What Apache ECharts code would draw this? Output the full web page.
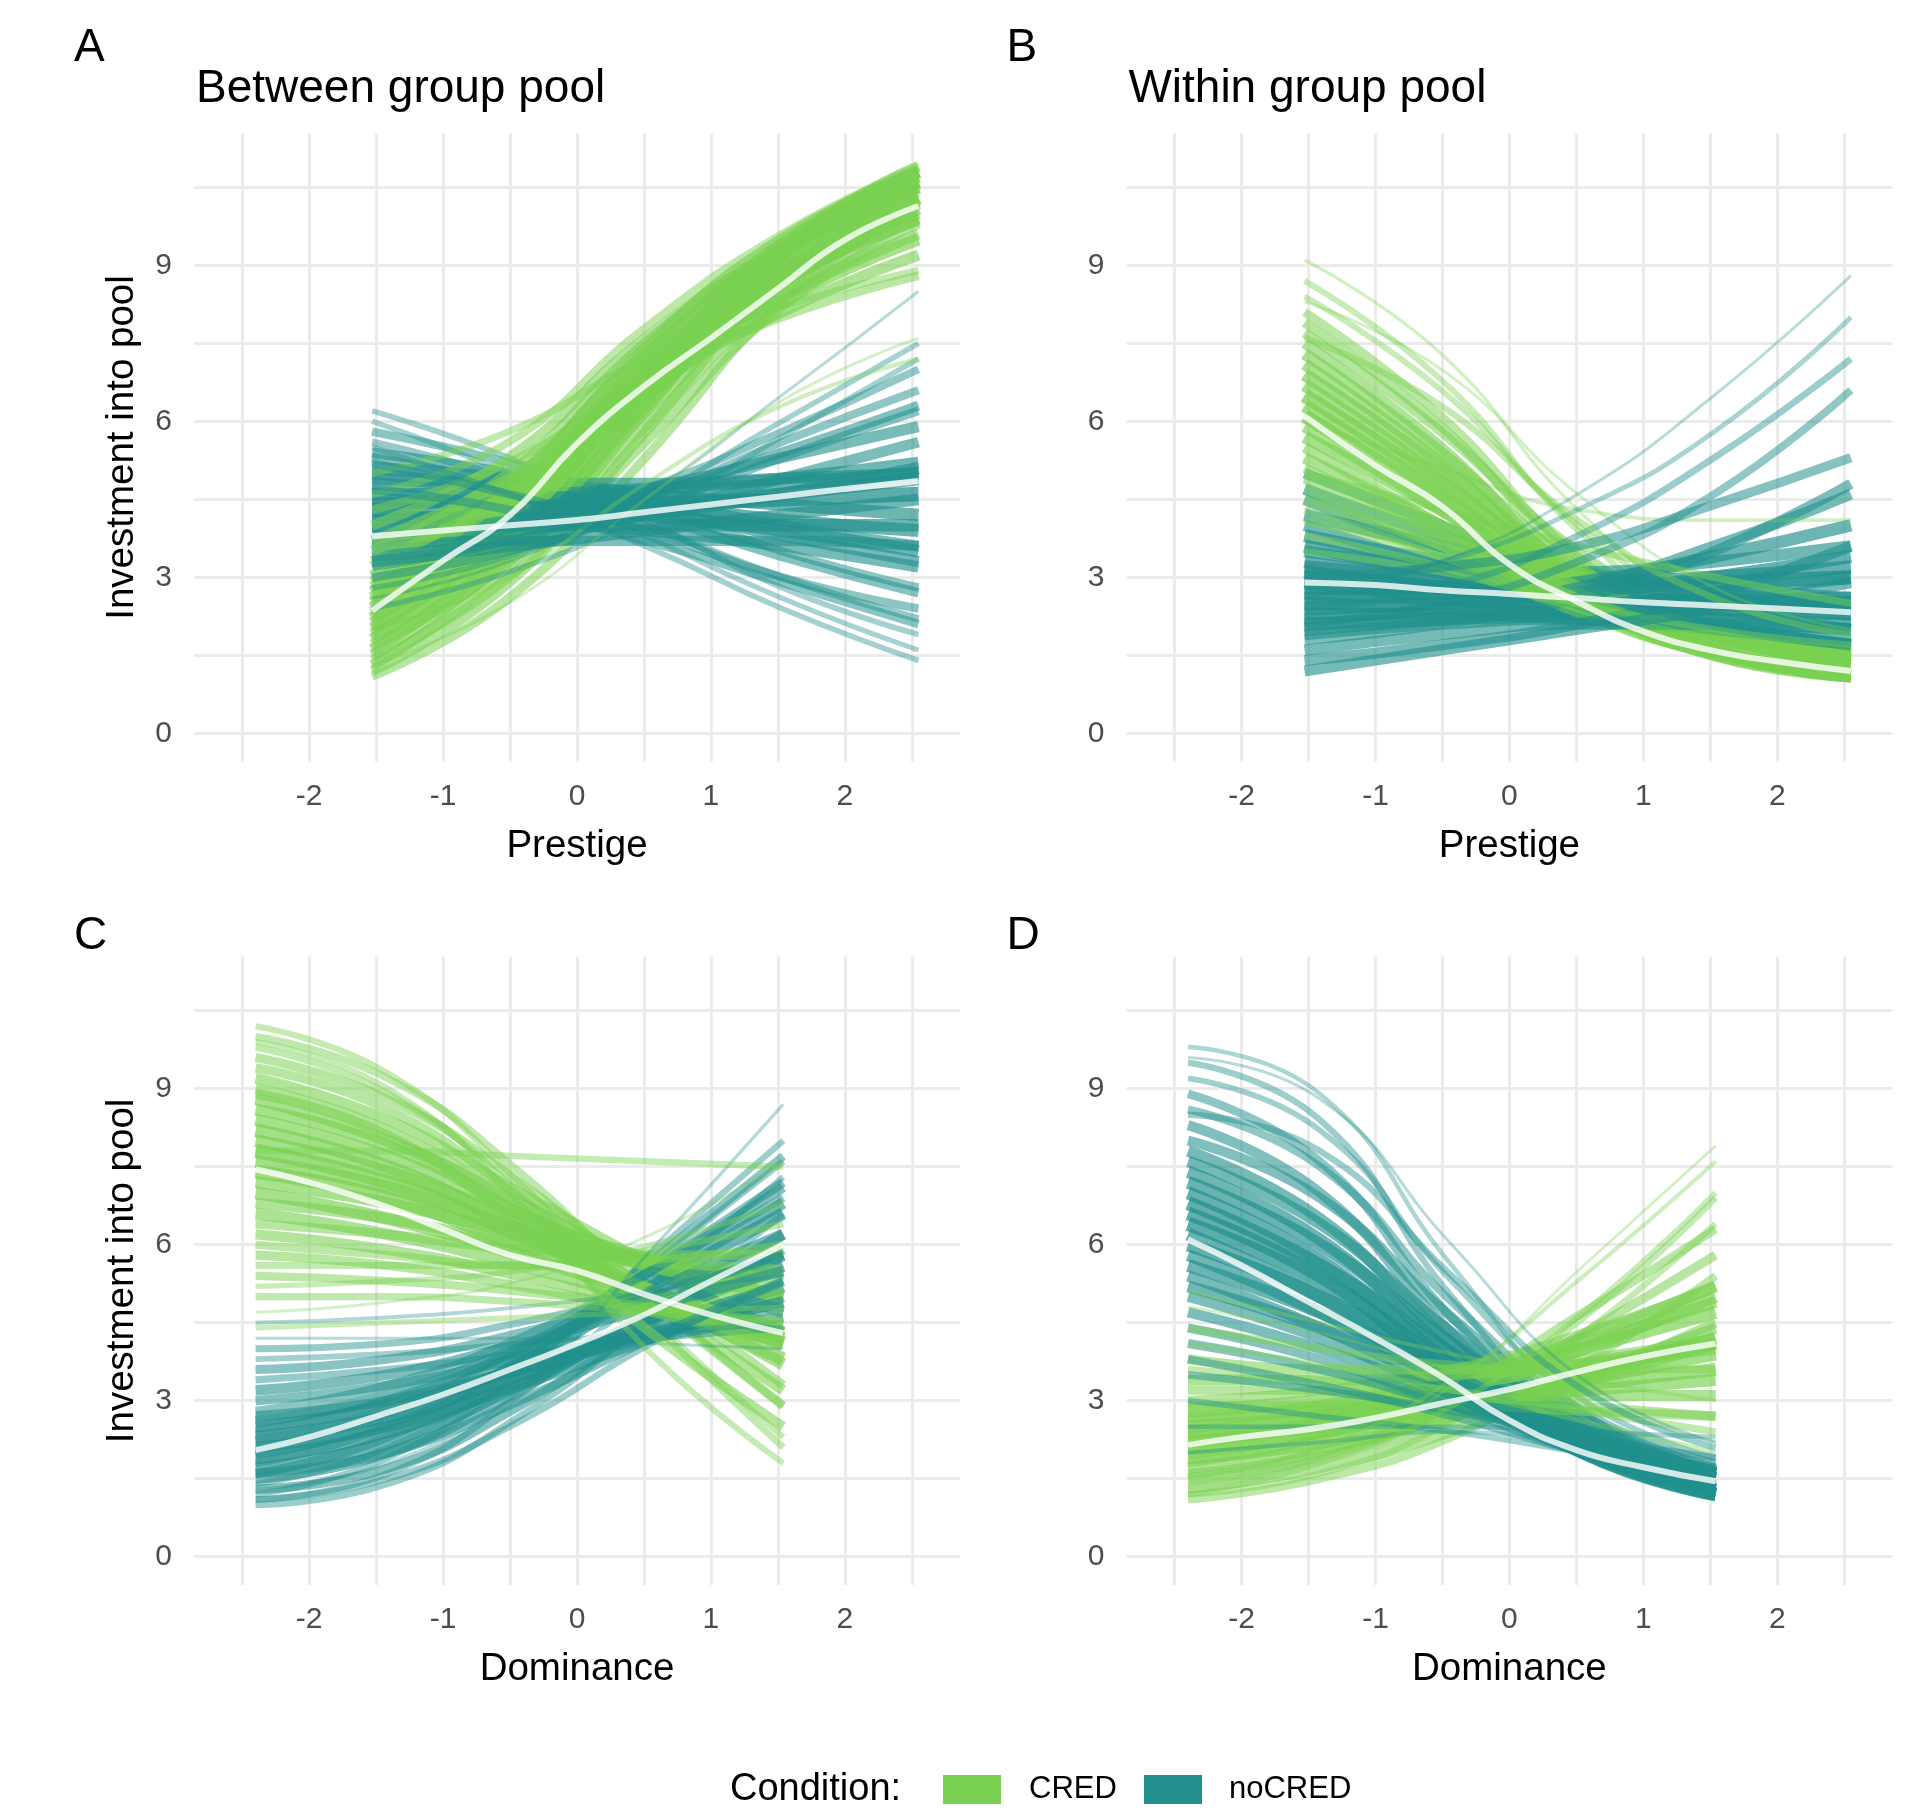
<!DOCTYPE html>
<html>
<head>
<meta charset="utf-8">
<script src="https://cdn.jsdelivr.net/npm/echarts@6/dist/echarts.min.js"></script>
<style>
  html, body { margin: 0; padding: 0; background: #fff; }
  #chart { width: 1915px; height: 1811px; }
</style>
</head>
<body>
<div id="chart"></div>
<script>
var prestigeX = [-1.53, -0.51, 0.51, 1.53, 2.55];
var dominanceX = [-2.40, -1.415, -0.43, 0.555, 1.54];
// x positions where the mean curves were read
var prestigeMeanX = [-1.53, -1, -0.5, 0, 0.5, 1, 1.5, 2, 2.55];
var dominanceMeanX = [-2.4, -2, -1.5, -1, -0.5, 0, 0.5, 1, 1.54];

var xTicks = [-2, -1, 0, 1, 2];
var xMinor = [-2.5, -1.5, -0.5, 0.5, 1.5, 2.5];
var yTicks = [0, 3, 6, 9];
var yMinor = [1.5, 4.5, 7.5, 10.5];

// A - between group pool ~ prestige
var betweenPrestigeCred = [
  [1.1, 2.6, 5.3, 8.3, 10.2], [1.2, 2.9, 5.8, 8.8, 10.6], [1.3, 3.2, 6.2, 9.2, 10.8],
  [1.4, 3.0, 5.6, 8.2, 9.8], [1.5, 3.4, 6.4, 9.3, 10.9], [1.6, 3.5, 6.3, 9.0, 10.5],
  [1.7, 3.3, 5.9, 8.4, 9.9], [1.8, 3.7, 6.6, 9.2, 10.7], [1.9, 3.6, 6.2, 8.6, 10.0],
  [2.0, 3.9, 6.8, 9.3, 10.8], [2.1, 3.8, 6.5, 8.8, 10.3], [2.2, 4.1, 6.9, 9.2, 10.6],
  [2.3, 4.0, 6.6, 8.7, 10.1], [2.4, 4.3, 7.1, 9.4, 10.8], [2.5, 4.2, 6.7, 8.7, 9.9],
  [2.6, 4.5, 7.2, 9.3, 10.6], [2.7, 4.4, 6.9, 8.9, 10.3], [2.8, 4.3, 6.5, 8.3, 9.5],
  [2.9, 4.7, 7.4, 9.5, 10.8], [3.0, 4.6, 7.0, 8.9, 10.2], [3.2, 4.8, 7.3, 9.2, 10.5],
  [3.3, 4.6, 6.6, 8.1, 9.2], [3.5, 5.0, 7.5, 9.4, 10.7], [3.7, 4.9, 6.8, 8.4, 9.6],
  [4.0, 5.3, 7.6, 9.3, 10.4], [4.3, 5.2, 6.8, 8.0, 8.8], [4.6, 5.6, 7.8, 9.6, 10.9],
  [5.0, 5.8, 7.2, 8.2, 8.9], [1.3, 2.5, 4.5, 6.4, 7.6], [2.0, 3.0, 4.8, 6.3, 7.2]
];
var betweenPrestigeNoCred = [
  [6.2, 5.3, 4.1, 2.8, 1.9], [6.0, 5.0, 3.8, 2.6, 1.6], [5.8, 5.2, 4.4, 3.5, 2.8],
  [5.6, 4.9, 4.0, 3.0, 2.2], [5.4, 5.0, 4.5, 4.0, 3.6], [5.3, 4.8, 4.2, 3.4, 2.7],
  [5.1, 4.9, 4.6, 4.4, 4.2], [5.0, 4.7, 4.3, 3.8, 3.3], [4.9, 4.8, 4.8, 4.9, 5.0],
  [4.8, 4.6, 4.4, 4.1, 3.9], [4.6, 4.6, 4.7, 4.9, 5.2], [4.5, 4.4, 4.2, 3.9, 3.5],
  [4.4, 4.5, 4.6, 4.8, 5.0], [4.3, 4.3, 4.4, 4.5, 4.6], [4.2, 4.1, 3.9, 3.6, 3.2],
  [4.1, 4.3, 4.7, 5.3, 5.9], [4.0, 4.1, 4.3, 4.6, 4.9], [3.9, 4.0, 4.0, 4.0, 4.0],
  [3.8, 4.1, 4.6, 5.4, 6.3], [3.7, 3.9, 4.2, 4.6, 5.1], [3.6, 3.7, 3.7, 3.7, 3.6],
  [3.5, 3.9, 4.7, 5.8, 7.0], [3.4, 3.7, 4.2, 4.9, 5.6], [3.3, 3.6, 3.9, 4.2, 4.5],
  [3.2, 3.7, 4.5, 5.6, 6.6], [3.0, 3.5, 4.3, 5.3, 6.2], [2.8, 3.4, 4.5, 6.0, 7.5],
  [2.6, 3.3, 4.6, 6.5, 8.5], [2.4, 3.1, 4.2, 5.7, 7.2], [5.5, 4.6, 3.6, 2.4, 1.4],
  [4.7, 4.3, 3.7, 2.9, 2.1], [5.2, 4.6, 3.9, 3.0, 2.4]
];
var betweenPrestigeMeanCred = [2.36, 3.32, 4.2, 5.57, 6.67, 7.6, 8.55, 9.49, 10.14];
var betweenPrestigeMeanNoCred = [3.79, 3.9, 4.0, 4.1, 4.25, 4.4, 4.55, 4.7, 4.85];

// B - within group pool ~ prestige
var withinPrestigeCred = [
  [9.1, 7.3, 4.3, 2.3, 1.5], [8.7, 6.8, 3.9, 2.0, 1.3], [8.4, 6.6, 4.0, 2.3, 1.6],
  [8.1, 6.1, 3.4, 1.8, 1.2], [7.9, 5.9, 3.3, 1.8, 1.2], [7.7, 5.8, 3.5, 2.1, 1.5],
  [7.5, 5.5, 3.0, 1.6, 1.1], [7.3, 5.4, 3.2, 1.9, 1.4], [7.1, 5.2, 2.9, 1.6, 1.1],
  [6.9, 5.1, 3.1, 1.9, 1.4], [6.7, 4.9, 2.8, 1.6, 1.1], [6.5, 4.8, 3.0, 1.9, 1.4],
  [6.3, 4.6, 2.7, 1.6, 1.1], [6.1, 4.5, 2.9, 1.9, 1.5], [5.9, 4.3, 2.6, 1.5, 1.1],
  [5.7, 4.3, 2.8, 1.9, 1.5], [5.5, 4.0, 2.5, 1.5, 1.1], [5.3, 4.0, 2.7, 1.9, 1.5],
  [5.1, 3.8, 2.4, 1.5, 1.1], [4.9, 3.8, 2.6, 1.8, 1.4], [4.7, 3.6, 2.4, 1.6, 1.2],
  [4.5, 3.6, 2.6, 1.9, 1.6], [4.3, 3.4, 2.3, 1.5, 1.1], [4.1, 3.4, 2.5, 1.9, 1.5],
  [3.8, 3.2, 2.4, 1.8, 1.4], [3.5, 3.1, 2.5, 2.0, 1.7], [5.0, 4.3, 3.6, 3.0, 2.5],
  [6.0, 5.1, 4.3, 4.1, 4.1], [8.3, 7.0, 4.6, 2.8, 2.0], [7.6, 6.3, 4.1, 2.6, 1.9]
];
var withinPrestigeNoCred = [
  [5.0, 4.0, 3.0, 2.4, 2.0], [4.7, 3.8, 3.1, 2.7, 2.5], [4.5, 3.5, 2.7, 2.1, 1.7],
  [4.2, 3.6, 3.1, 2.8, 2.6], [4.0, 3.2, 2.5, 2.0, 1.6], [3.8, 3.3, 2.9, 2.6, 2.4],
  [3.6, 3.1, 2.7, 2.5, 2.3], [3.5, 3.2, 3.1, 3.3, 3.6], [3.3, 2.9, 2.5, 2.2, 2.0],
  [3.2, 3.0, 2.9, 3.0, 3.2], [3.1, 2.8, 2.6, 2.4, 2.3], [3.0, 2.8, 2.6, 2.5, 2.5],
  [2.9, 2.6, 2.3, 2.0, 1.7], [2.8, 2.8, 2.8, 2.9, 3.0], [2.7, 2.6, 2.5, 2.5, 2.5],
  [2.6, 2.7, 2.9, 3.4, 4.0], [2.5, 2.4, 2.3, 2.2, 2.1], [2.4, 2.5, 2.7, 3.0, 3.4],
  [2.3, 2.3, 2.2, 2.0, 1.8], [2.2, 2.4, 2.8, 3.6, 4.6], [2.1, 2.2, 2.3, 2.5, 2.6],
  [2.0, 2.2, 2.4, 2.7, 3.0], [1.9, 2.1, 2.2, 2.0, 1.7], [1.8, 2.1, 2.6, 3.5, 4.8],
  [1.6, 1.9, 2.1, 2.1, 2.0], [1.4, 1.7, 2.1, 2.7, 3.6], [1.2, 1.6, 2.0, 2.4, 2.9],
  [2.6, 3.3, 4.6, 6.5, 8.8], [2.8, 3.3, 4.3, 5.8, 8.0], [2.4, 2.8, 3.8, 5.3, 7.2],
  [2.1, 2.5, 3.3, 4.6, 6.6], [3.0, 3.2, 3.6, 4.4, 5.3]
];
var withinPrestigeMeanCred = [6.1, 5.15, 4.36, 3.25, 2.54, 1.96, 1.6, 1.38, 1.2];
var withinPrestigeMeanNoCred = [2.9, 2.85, 2.75, 2.68, 2.6, 2.52, 2.46, 2.4, 2.33];

// C - between group pool ~ dominance
var betweenDominanceCred = [
  [10.2, 9.3, 7.2, 4.6, 2.3], [10.0, 9.2, 7.4, 5.0, 2.9], [9.8, 8.9, 7.0, 4.5, 2.1],
  [9.6, 8.8, 7.2, 5.2, 3.3], [9.4, 8.6, 6.9, 4.9, 2.9], [9.2, 8.4, 7.0, 5.6, 4.2],
  [9.0, 8.2, 6.7, 4.9, 3.2], [8.8, 8.0, 6.8, 5.5, 4.3], [8.6, 7.9, 6.6, 5.1, 3.7],
  [8.4, 7.7, 6.6, 5.6, 4.7], [8.2, 7.5, 6.3, 5.0, 3.8], [8.0, 7.4, 6.5, 5.7, 5.0],
  [7.8, 7.2, 6.2, 5.1, 4.1], [7.6, 7.1, 6.3, 5.6, 5.0], [7.4, 6.9, 6.0, 5.1, 4.3],
  [7.2, 6.8, 6.2, 5.7, 5.3], [7.0, 6.5, 5.8, 5.0, 4.2], [6.8, 6.5, 6.0, 5.7, 5.5],
  [6.6, 6.2, 5.6, 4.9, 4.2], [6.4, 6.2, 5.9, 5.8, 5.8], [6.2, 5.9, 5.4, 4.8, 4.1],
  [6.0, 5.8, 5.6, 5.7, 6.0], [5.8, 5.6, 5.2, 4.7, 4.1], [5.6, 5.6, 5.6, 5.9, 6.4],
  [5.4, 5.3, 5.1, 4.8, 4.5], [5.2, 5.3, 5.5, 6.0, 6.8], [5.0, 5.0, 4.9, 4.7, 4.5],
  [4.7, 4.9, 5.3, 6.2, 7.6], [4.4, 4.5, 4.6, 4.7, 4.8], [7.8, 7.8, 7.7, 7.6, 7.5],
  [9.9, 9.0, 6.8, 3.9, 1.8], [8.9, 8.1, 6.4, 4.3, 2.5]
];
var betweenDominanceNoCred = [
  [1.0, 1.4, 2.7, 4.6, 6.6], [1.1, 1.6, 3.1, 5.2, 7.3], [1.2, 1.9, 3.5, 5.6, 7.6],
  [1.3, 1.7, 2.9, 4.5, 5.9], [1.4, 2.1, 3.6, 5.8, 8.0], [1.5, 2.0, 3.2, 4.7, 6.2],
  [1.6, 2.3, 3.7, 5.5, 7.2], [1.7, 2.2, 3.3, 4.6, 5.8], [1.8, 2.5, 3.8, 5.7, 7.7],
  [1.9, 2.4, 3.4, 4.6, 5.6], [2.0, 2.6, 3.7, 5.2, 6.6], [2.1, 2.5, 3.3, 4.2, 5.0],
  [2.2, 2.8, 3.9, 5.3, 6.8], [2.3, 2.7, 3.5, 4.4, 5.2], [2.4, 3.0, 4.0, 5.5, 7.1],
  [2.5, 2.9, 3.6, 4.3, 4.9], [2.6, 3.1, 4.0, 5.1, 6.2], [2.7, 3.0, 3.6, 4.2, 4.6],
  [2.8, 3.3, 4.2, 5.5, 6.9], [3.0, 3.3, 3.8, 4.3, 4.8], [3.2, 3.5, 4.1, 4.8, 5.5],
  [3.4, 3.6, 3.9, 4.2, 4.4], [3.6, 3.8, 4.3, 5.0, 5.8], [3.8, 3.9, 4.1, 4.3, 4.5],
  [4.0, 4.1, 4.5, 5.1, 5.8], [4.2, 4.2, 4.2, 4.1, 4.0], [4.5, 4.6, 4.8, 5.1, 5.4],
  [1.3, 1.8, 3.2, 5.9, 8.7], [1.1, 1.5, 2.6, 4.1, 5.3], [1.6, 2.0, 3.0, 4.2, 5.3]
];
var betweenDominanceMeanCred = [7.45, 7.2, 6.8, 6.3, 5.8, 5.5, 5.05, 4.65, 4.3];
var betweenDominanceMeanNoCred = [2.05, 2.3, 2.7, 3.12, 3.6, 4.1, 4.65, 5.3, 6.0];

// D - within group pool ~ dominance
var withinDominanceCred = [
  [1.1, 1.5, 2.3, 3.7, 5.4], [1.2, 1.6, 2.6, 4.3, 6.4], [1.3, 1.7, 2.4, 3.4, 4.5],
  [1.4, 1.9, 2.9, 4.6, 6.9], [1.5, 1.9, 2.6, 3.5, 4.4], [1.6, 2.0, 2.9, 4.3, 5.8],
  [1.7, 2.1, 2.7, 3.4, 4.1], [1.8, 2.3, 3.2, 4.7, 6.3], [1.9, 2.2, 2.8, 3.5, 4.2],
  [2.0, 2.4, 3.1, 4.0, 5.0], [2.1, 2.4, 2.9, 3.4, 3.9], [2.2, 2.6, 3.3, 4.2, 5.2],
  [2.3, 2.5, 2.9, 3.3, 3.6], [2.4, 2.7, 3.3, 4.0, 4.7], [2.5, 2.7, 3.0, 3.2, 3.4],
  [2.6, 2.9, 3.4, 4.1, 4.9], [2.7, 2.8, 3.0, 3.1, 3.1], [2.8, 3.0, 3.3, 3.7, 4.1],
  [2.9, 2.9, 2.9, 2.8, 2.7], [3.0, 3.2, 3.6, 4.3, 5.2], [3.2, 3.2, 3.1, 2.9, 2.7],
  [3.4, 3.4, 3.5, 3.7, 4.0], [3.6, 3.4, 3.2, 2.8, 2.4], [3.8, 3.6, 3.6, 3.8, 4.2],
  [4.1, 3.7, 3.2, 2.6, 2.0], [4.4, 4.0, 3.7, 3.6, 3.6], [4.8, 4.3, 3.6, 2.9, 2.2],
  [5.1, 4.5, 3.9, 3.4, 3.0], [1.3, 1.9, 3.3, 5.6, 7.9], [1.5, 2.1, 3.4, 5.4, 7.6],
  [1.2, 1.8, 2.9, 4.7, 7.0]
];
var withinDominanceNoCred = [
  [9.8, 8.9, 5.6, 2.8, 1.6], [9.5, 8.4, 5.0, 2.5, 1.5], [9.2, 8.2, 5.3, 3.0, 1.9],
  [8.9, 7.6, 4.6, 2.4, 1.4], [8.6, 7.5, 4.9, 2.8, 1.8], [8.3, 7.0, 4.3, 2.2, 1.3],
  [8.0, 6.9, 4.6, 2.7, 1.7], [7.8, 6.5, 4.1, 2.2, 1.3], [7.6, 6.4, 4.3, 2.6, 1.6],
  [7.4, 6.1, 3.9, 2.1, 1.2], [7.2, 6.0, 4.1, 2.5, 1.6], [7.0, 5.7, 3.7, 2.0, 1.2],
  [6.8, 5.6, 3.9, 2.4, 1.5], [6.6, 5.4, 3.5, 2.0, 1.2], [6.4, 5.3, 3.7, 2.4, 1.6],
  [6.2, 5.0, 3.4, 2.0, 1.2], [6.0, 5.0, 3.6, 2.3, 1.5], [5.8, 4.7, 3.3, 2.0, 1.3],
  [5.6, 4.7, 3.5, 2.3, 1.6], [5.4, 4.4, 3.2, 2.0, 1.3], [5.2, 4.4, 3.4, 2.3, 1.6],
  [5.0, 4.2, 3.1, 2.0, 1.3], [4.7, 4.0, 3.1, 2.2, 1.6], [4.4, 3.8, 2.9, 2.0, 1.4],
  [4.1, 3.6, 2.9, 2.2, 1.7], [3.8, 3.3, 2.7, 2.0, 1.5], [3.5, 3.2, 2.8, 2.3, 1.9],
  [3.0, 2.7, 2.4, 2.0, 1.6], [2.5, 2.5, 2.5, 2.4, 2.3], [2.0, 2.2, 2.4, 2.1, 1.7],
  [8.5, 7.8, 5.4, 3.2, 2.1], [9.6, 8.8, 6.0, 3.4, 2.2]
];
var withinDominanceMeanCred = [2.15, 2.3, 2.45, 2.67, 2.95, 3.22, 3.55, 3.85, 4.1];
var withinDominanceMeanNoCred = [6.1, 5.6, 4.9, 4.2, 3.45, 2.62, 2.05, 1.72, 1.45];

var GREEN = '#7AD151';
var TEAL = '#21908C';
var GRID_COLOR = '#EBEBEB';
var FONT = '"Liberation Sans", Arial, sans-serif';

var panels = [
  { x: prestigeX, mx: prestigeMeanX, cred: betweenPrestigeCred, nocred: betweenPrestigeNoCred, meanCred: betweenPrestigeMeanCred, meanNoCred: betweenPrestigeMeanNoCred },
  { x: prestigeX, mx: prestigeMeanX, cred: withinPrestigeCred, nocred: withinPrestigeNoCred, meanCred: withinPrestigeMeanCred, meanNoCred: withinPrestigeMeanNoCred },
  { x: dominanceX, mx: dominanceMeanX, cred: betweenDominanceCred, nocred: betweenDominanceNoCred, meanCred: betweenDominanceMeanCred, meanNoCred: betweenDominanceMeanNoCred },
  { x: dominanceX, mx: dominanceMeanX, cred: withinDominanceCred, nocred: withinDominanceNoCred, meanCred: withinDominanceMeanCred, meanNoCred: withinDominanceMeanNoCred }
];

var lefts = [194, 1126.4];
var tops = [133.3, 956.7];
var PW = 766, PH = 628.4;

var grids = [], xAxes = [], yAxes = [], series = [];

function pts(xs, ys) {
  return xs.map(function (x, j) { return [x, ys[j]]; });
}

// how far a draw sits from the middle of its bundle (median of draws at each x)
function closeness(lines) {
  var mid = lines[0].map(function (_, j) {
    var col = lines.map(function (l) { return l[j]; }).sort(function (a, b) { return a - b; });
    return col[Math.floor(col.length / 2)];
  });
  var d = lines.map(function (l) {
    var s = 0;
    l.forEach(function (v, j) { s += Math.abs(v - mid[j]); });
    return s / l.length;
  });
  var dmax = Math.max.apply(null, d);
  return d.map(function (v) { return 1 - v / dmax; });
}

function curve(g, xs, ys, color, c) {
  return {
    type: 'line', xAxisIndex: g * 2, yAxisIndex: g * 2,
    data: pts(xs, ys), showSymbol: false, silent: true,
    smooth: 0.5,
    lineStyle: { color: color, width: 3 + 12 * c, opacity: 0.32 + 0.43 * c }
  };
}

function meanCurve(g, xs, ys) {
  return {
    type: 'line', xAxisIndex: g * 2, yAxisIndex: g * 2, z: 5,
    data: pts(xs, ys), showSymbol: false, silent: true,
    smooth: 0.5,
    lineStyle: { color: 'rgba(255,255,255,0.8)', width: 6 }
  };
}

panels.forEach(function (p, g) {
  var col = g % 2, row = Math.floor(g / 2);
  grids.push({ left: lefts[col], top: tops[row], width: PW, height: PH, outerBoundsMode: 'none' });

  var xBase = {
    gridIndex: g, type: 'value', min: -2.86, max: 2.86,
    axisLine: { show: false },
    splitLine: { show: true, lineStyle: { color: GRID_COLOR, width: 3 } }
  };
  xAxes.push(Object.assign({}, xBase, {
    axisTick: { show: false, customValues: xTicks },
    axisLabel: { customValues: xTicks, color: '#4D4D4D', fontSize: 30, fontFamily: FONT, margin: 20 }
  }));
  xAxes.push(Object.assign({}, xBase, {
    axisTick: { show: false, customValues: xMinor },
    axisLabel: { show: false }
  }));

  var yBase = {
    gridIndex: g, type: 'value', min: -0.546, max: 11.538,
    axisLine: { show: false },
    splitLine: { show: true, lineStyle: { color: GRID_COLOR, width: 3 } }
  };
  yAxes.push(Object.assign({}, yBase, {
    axisTick: { show: false, customValues: yTicks },
    axisLabel: { customValues: yTicks, color: '#4D4D4D', fontSize: 30, fontFamily: FONT, margin: 22 }
  }));
  yAxes.push(Object.assign({}, yBase, {
    axisTick: { show: false, customValues: yMinor },
    axisLabel: { show: false }
  }));

  var cCred = closeness(p.cred);
  var cNo = closeness(p.nocred);

  // interleave the two conditions so neither sits fully on top
  var n = Math.max(p.cred.length, p.nocred.length);
  for (var i = 0; i < n; i++) {
    if (p.nocred[i]) series.push(curve(g, p.x, p.nocred[i], TEAL, cNo[i]));
    if (p.cred[i]) series.push(curve(g, p.x, p.cred[i], GREEN, cCred[i]));
  }
  series.push(meanCurve(g, p.mx, p.meanNoCred));
  series.push(meanCurve(g, p.mx, p.meanCred));
});

function txt(s, x, y, size, opts) {
  opts = opts || {};
  return {
    type: 'text', x: x, y: y, rotation: opts.rotation || 0, z: 100,
    style: {
      text: s, fill: opts.color || '#000', font: size + 'px ' + FONT,
      textAlign: opts.align || 'left', align: opts.align || 'left',
      textVerticalAlign: 'middle', verticalAlign: 'middle'
    }
  };
}

var dx = 932.4, dy = 823.4;
var graphics = [
  txt('A', 74, 48.5, 46), txt('B', 74 + dx, 48.5, 46),
  txt('C', 74, 936.5, 46), txt('D', 74 + dx, 936.5, 46),
  txt('Between group pool', 196, 89, 46),
  txt('Within group pool', 196 + dx, 89, 46),
  txt('Investment into pool', 122, 133.3 + PH / 2, 38.5, { align: 'center', rotation: Math.PI / 2 }),
  txt('Investment into pool', 122, 956.7 + PH / 2, 38.5, { align: 'center', rotation: Math.PI / 2 }),
  txt('Prestige', 194 + PW / 2, 846, 38.5, { align: 'center' }),
  txt('Prestige', 194 + PW / 2 + dx, 846, 38.5, { align: 'center' }),
  txt('Dominance', 194 + PW / 2, 846 + dy, 38.5, { align: 'center' }),
  txt('Dominance', 194 + PW / 2 + dx, 846 + dy, 38.5, { align: 'center' }),
  txt('Condition:', 730, 1789.5, 38),
  { type: 'rect', shape: { x: 943, y: 1775, width: 58, height: 29 }, style: { fill: GREEN } },
  txt('CRED', 1029, 1789.5, 31),
  { type: 'rect', shape: { x: 1144, y: 1775, width: 58, height: 29 }, style: { fill: TEAL } },
  txt('noCRED', 1229, 1789.5, 31)
];

var chart = echarts.init(document.getElementById('chart'), null, { renderer: 'canvas' });
chart.setOption({
  backgroundColor: '#ffffff',
  animation: false,
  grid: grids,
  xAxis: xAxes,
  yAxis: yAxes,
  series: series,
  graphic: graphics
});
</script>
</body>
</html>
